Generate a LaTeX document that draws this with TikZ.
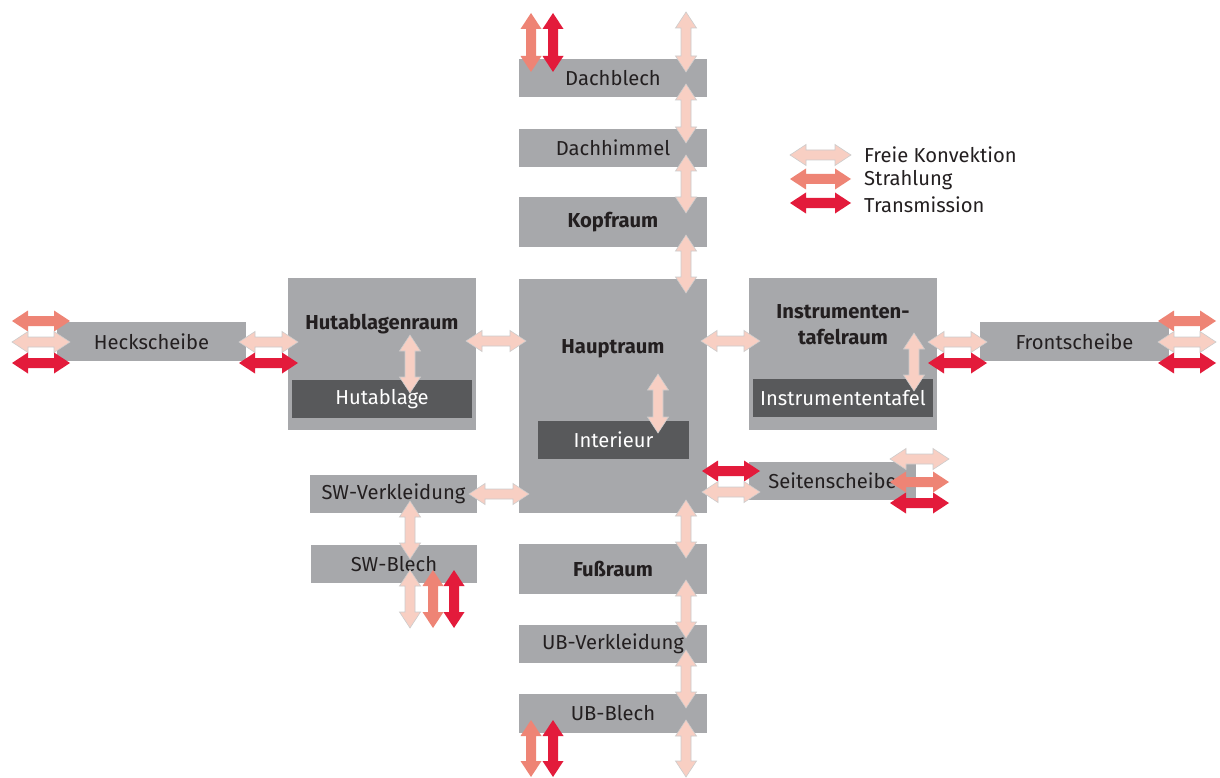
\documentclass[tikz,border=0pt]{standalone}
\usepackage{fontspec}
\setmainfont{Fira Sans}
\usetikzlibrary{calc}
\definecolor{boxgrey}{RGB}{167,168,171}
\definecolor{darkbox}{RGB}{88,89,91}
\definecolor{convc}{RGB}{248,207,195}
\definecolor{strc}{RGB}{238,132,117}
\definecolor{trac}{RGB}{227,27,59}
\definecolor{txt}{RGB}{35,31,32}
\def\ah{16}\def\aw{10.5}\def\as{5}
\newcommand\harr[5]{% style, name, x1, x2, y
  \coordinate (#2a) at (#3,#5); \coordinate (#2b) at (#4,#5);
  \path[#1] (#2a) -- ($(#2a)+(\ah,\aw)$) -- ($(#2a)+(\ah,\as)$) -- ($(#2b)+(-\ah,\as)$) -- ($(#2b)+(-\ah,\aw)$) -- (#2b)
    -- ($(#2b)+(-\ah,-\aw)$) -- ($(#2b)+(-\ah,-\as)$) -- ($(#2a)+(\ah,-\as)$) -- ($(#2a)+(\ah,-\aw)$) -- cycle;}
\newcommand\varr[5]{% style, name, x, y1, y2
  \coordinate (#2a) at (#3,#4); \coordinate (#2b) at (#3,#5);
  \path[#1] (#2a) -- ($(#2a)+(\aw,\ah)$) -- ($(#2a)+(\as,\ah)$) -- ($(#2b)+(\as,-\ah)$) -- ($(#2b)+(\aw,-\ah)$) -- (#2b)
    -- ($(#2b)+(-\aw,-\ah)$) -- ($(#2b)+(-\as,-\ah)$) -- ($(#2a)+(-\as,\ah)$) -- ($(#2a)+(-\aw,\ah)$) -- cycle;}
\newcommand\fnt{\fontsize{20.2}{24}\selectfont}
\tikzset{
  box/.style={fill=boxgrey, draw=none, inner sep=0pt, text=txt},
  darkinner/.style={fill=darkbox, draw=none, inner sep=0pt, text=white},
  lbl/.style={text=txt, inner sep=0pt},
  bld/.style={font=\fnt\bfseries},
  conv/.style={fill=convc, draw=black!20, line width=0.6pt, line join=miter},
  stra/.style={fill=strc},
  tran/.style={fill=trac},
}
\begin{document}
\begin{tikzpicture}[x=1pt,y=-1pt, every node/.style={font=\fnt}]
\useasboundingbox[fill=white] (0,0) rectangle (1220,778);
% vertical stack
\node[box, minimum width=188, minimum height=38] (dachblech) at (613,78) {Dachblech};
\node[box, minimum width=188, minimum height=38] (dachhimmel) at (613,148) {Dachhimmel};
\node[box, bld, minimum width=188, minimum height=50] (kopf) at (613,222) {Kopfraum};
\node[box, minimum width=188, minimum height=234] (haupt) at (613,396) {};
\node[lbl, bld] (hauptl) at (613,349) {Hauptraum};
\node[darkinner, minimum width=151, minimum height=38] (interieur) at (613.5,440) {Interieur};
\node[box, bld, minimum width=188, minimum height=50] (fuss) at (613,569) {Fußraum};
\node[box, minimum width=188, minimum height=38] (ubverk) at (613,644) {UB-Verkleidung};
\node[box, minimum width=188, minimum height=39] (ubblech) at (613,713.5) {UB-Blech};
% left
\node[box, minimum width=188, minimum height=152] (hutraum) at (382,354) {};
\node[lbl, bld] (hutrauml) at (382,324) {Hutablagenraum};
\node[darkinner, minimum width=180, minimum height=38] (hutablage) at (382,399) {Hutablage};
\node[box, minimum width=189, minimum height=39] (heck) at (151.5,341.5) {Heckscheibe};
\node[box, minimum width=167, minimum height=38] (swverk) at (393.5,494) {SW-Verkleidung};
\node[box, minimum width=166, minimum height=38] (swblech) at (394,564) {SW-Blech};
% right
\node[box, minimum width=188, minimum height=152] (instraum) at (843,354) {};
\node[lbl, font=\fontsize{20.2}{26}\selectfont\bfseries, align=center] (instrauml) at (843,325) {Instrumenten-\\tafelraum};
\node[darkinner, minimum width=180, minimum height=38] (insttafel) at (843,398) {Instrumententafel};
\node[box, minimum width=189, minimum height=39] (front) at (1074.5,341.5) {Frontscheibe};
\node[box, minimum width=167, minimum height=38] (seiten) at (832.5,481) {Seitenscheibe};
% legend
\node[lbl, anchor=west] (lconv) at (864,155) {Freie Konvektion};
\node[lbl, anchor=west] (lstra) at (864,180) {Strahlung};
\node[lbl, anchor=west] (ltran) at (864,205) {Transmission};
% vertical arrows, centre column
\varr{conv}{v1}{686}{12}{72}
\varr{conv}{v2}{686}{84}{143}
\varr{conv}{v3}{686}{155}{213}
\varr{conv}{v4}{686}{235}{293}
\varr{conv}{v5}{686}{500}{558}
\varr{conv}{v6}{686}{580}{638}
\varr{conv}{v7}{686}{650}{708}
\varr{conv}{v8}{686}{720}{777}
\varr{stra}{v9}{531}{13}{72}
\varr{tran}{v10}{553}{13}{72}
\varr{stra}{v11}{531}{720}{777}
\varr{tran}{v12}{553}{720}{777}
% inner vertical arrows
\varr{conv}{v13}{410}{335}{393}
\varr{conv}{v14}{658}{374}{433}
\varr{conv}{v15}{914}{333}{391}
\varr{conv}{v16}{410}{501}{559}
\varr{conv}{v17}{410}{570}{628}
\varr{stra}{v18}{433}{570}{628}
\varr{tran}{v19}{454}{570}{628}
% horizontal arrows
\harr{stra}{h1}{12}{70}{321}
\harr{conv}{h2}{12}{70}{342}
\harr{tran}{h3}{12}{70}{363}
\harr{conv}{h4}{239}{298}{342}
\harr{tran}{h5}{239}{298}{363}
\harr{conv}{h6}{466}{526}{341}
\harr{conv}{h7}{701}{760}{341}
\harr{conv}{h8}{928}{987}{342}
\harr{tran}{h9}{928}{987}{363}
\harr{stra}{h10}{1158}{1216}{321}
\harr{conv}{h11}{1158}{1216}{342}
\harr{tran}{h12}{1158}{1216}{363}
\harr{tran}{h13}{702}{760}{471}
\harr{conv}{h14}{702}{760}{492}
\harr{conv}{h15}{890}{949}{459}
\harr{stra}{h16}{890}{949}{482}
\harr{tran}{h17}{890}{949}{503}
\harr{conv}{h18}{469}{529}{494}
% legend arrows
\harr{conv}{l1}{790}{851}{155}
\harr{stra}{l2}{790}{851}{179}
\harr{tran}{l3}{790}{851}{203}
\end{tikzpicture}
\end{document}
